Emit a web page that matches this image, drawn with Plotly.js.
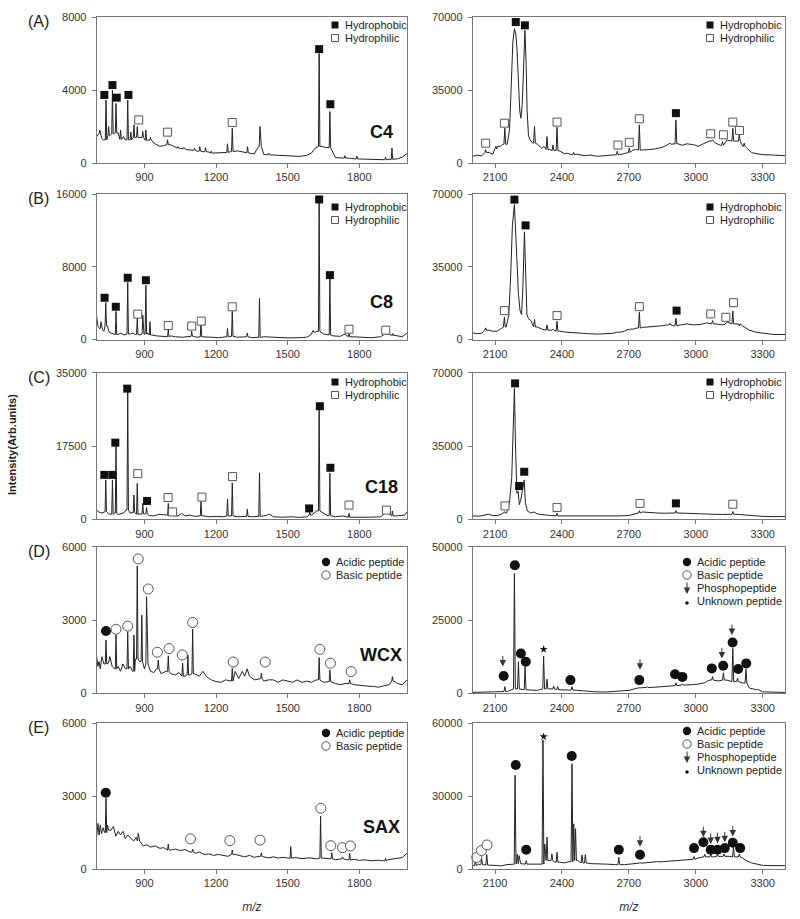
<!DOCTYPE html>
<html>
<head>
<meta charset="utf-8">
<script src="https://cdn.plot.ly/plotly-3.0.1.min.js"></script>
<style>
    body { margin: 0; background: #fff; }
    #chart { width: 800px; height: 919px; }
</style>
</head>
<body>
<div id="chart"></div>
<script>
// Spectra are read off the figure as baseline readings [m/z, intensity]
// plus peak apexes [m/z, intensity]; labelled peaks are separate lists.

// (A) C4
const c4LeftBase = [[700,1450],[707,1600],[714,1640],[721,1350],[728,1270],[749,1730],[756,1500],[770,1600],[790,1650],[798,1500],[805,1300],[812,1450],[819,1270],[840,1450],[846,1350],[881,1400],[915,1250],[923,1180],[945,1050],[965,910],[980,950],[1010,1000],[1035,820],[1060,780],[1077,730],[1100,700],[1120,650],[1145,620],[1170,600],[1188,545],[1215,560],[1235,580],[1300,640],[1320,560],[1345,520],[1360,500],[1378,900],[1390,900],[1400,470],[1411,450],[1450,430],[1481,400],[1520,380],[1551,360],[1580,420],[1600,545],[1614,800],[1645,900],[1660,850],[1700,300],[1730,270],[1760,260],[1800,220],[1830,210],[1870,190],[1900,180],[1920,200],[1960,230],[1980,320],[2000,520]];
const c4LeftPeaks = [[713,1800],[739,3450],[750,2000],[766,4000],[781,3270],[800,1800],[830,3450],[843,1700],[856,2090],[870,2000],[893,1730],[906,1800],[925,1400],[997,1270],[1040,900],[1065,850],[1110,800],[1132,900],[1156,850],[1180,650],[1248,1050],[1268,1900],[1290,700],[1332,900],[1384,2000],[1420,550],[1632,6000],[1677,2820],[1740,400],[1790,380],[1910,320],[1937,820]];
const c4LeftPhobic = [[732,3730],[766,4270],[784,3580],[833,3730],[1632,6240],[1679,3220]];
const c4LeftPhilic = [[876,2360],[997,1690],[1268,2220]];

const c4RightBase = [[2000,3200],[2020,3800],[2040,3400],[2075,5000],[2090,4200],[2125,8000],[2135,9000],[2155,9000],[2165,16000],[2172,35000],[2180,58000],[2187,64400],[2193,62000],[2198,55700],[2205,40000],[2211,25000],[2216,21500],[2222,28000],[2228,45000],[2234,63600],[2239,50000],[2244,25000],[2250,13000],[2258,11000],[2270,9500],[2290,9000],[2310,7000],[2320,8000],[2345,6500],[2370,6000],[2395,5500],[2410,4500],[2440,4000],[2470,4200],[2500,3500],[2530,3800],[2560,3200],[2590,3500],[2620,3800],[2660,4000],[2690,5000],[2715,6000],[2730,6500],[2760,6200],[2790,6400],[2820,6800],[2850,7500],[2870,8500],[2895,9000],[2920,9200],[2940,8500],[2960,9200],[2990,8800],[3010,8000],[3040,9500],[3060,10500],[3090,9500],[3110,8500],[3140,11000],[3180,10500],[3210,8000],[3230,7000],[3250,5000],[3270,4500],[3300,4000],[3350,3800],[3400,3500]];
const c4RightPeaks = [[2058,6400],[2108,6700],[2144,16700],[2277,17500],[2333,12700],[2360,8700],[2378,17200],[2423,4800],[2453,5100],[2648,5600],[2702,7200],[2747,18300],[2884,9500],[2911,20700],[3075,11100],[3120,10300],[3166,16700],[3195,13500],[3217,9500]];
const c4RightPhobic = [[2193,67600],[2234,66000],[2911,23900]];
const c4RightPhilic = [[2058,9500],[2142,19100],[2378,19600],[2651,8600],[2702,9900],[2747,21200],[3067,14000],[3124,13500],[3166,19600],[3196,15600]];

// (B) C8
const c8LeftBase = [[700,2500],[705,1500],[712,1200],[724,1100],[730,900],[745,1500],[752,800],[760,700],[770,600],[790,550],[800,700],[815,500],[840,600],[850,700],[862,550],[880,500],[898,600],[915,700],[930,500],[950,400],[970,350],[990,300],[1010,400],[1030,300],[1060,250],[1080,300],[1105,350],[1120,250],[1150,300],[1180,250],[1210,200],[1240,300],[1258,350],[1290,250],[1320,300],[1350,200],[1370,250],[1400,300],[1430,250],[1460,200],[1500,180],[1550,200],[1580,250],[1597,500],[1615,800],[1622,900],[1650,600],[1665,500],[1690,400],[1720,350],[1740,600],[1770,300],[1800,250],[1850,200],[1890,300],[1920,600],[1950,450],[1980,300],[2000,700]];
const c8LeftPeaks = [[718,1950],[738,4070],[781,3100],[830,6280],[870,2320],[893,2680],[906,5980],[923,1950],[1000,1100],[1098,900],[1137,1950],[1248,1210],[1268,3100],[1331,700],[1382,4510],[1607,1000],[1632,15230],[1677,6800],[1757,660],[1911,700],[1941,650]];
const c8LeftPhobic = [[733,4590],[780,3600],[830,6790],[906,6520],[1632,15400],[1677,7080]];
const c8LeftPhilic = [[872,2790],[1000,1540],[1098,1470],[1138,2020],[1268,3600],[1757,1130],[1911,1020]];

const c8RightBase = [[2000,3200],[2020,2800],[2040,3000],[2070,4500],[2090,4000],[2110,4000],[2127,5000],[2150,6000],[2162,12000],[2170,30000],[2178,55000],[2187,64900],[2193,50000],[2198,32800],[2205,22000],[2212,14000],[2219,12000],[2225,25000],[2232,51800],[2238,30000],[2243,12000],[2250,10000],[2262,9000],[2290,6000],[2310,5000],[2345,4500],[2390,4000],[2420,3500],[2450,3200],[2480,3000],[2520,2800],[2560,2600],[2600,2800],[2630,3000],[2660,3500],[2680,4000],[2720,5000],[2735,5500],[2760,5800],[2790,6000],[2820,6200],[2850,6600],[2870,7000],[2900,6600],[2930,7000],[2960,7500],[2990,7000],[3020,7200],[3050,8000],[3090,7500],[3110,7000],[3140,8500],[3180,7500],[3210,6500],[3225,5500],[3240,4500],[3270,3500],[3300,3000],[3350,2400],[3400,2400]];
const c8RightPeaks = [[2058,5600],[2142,10700],[2277,9600],[2333,7000],[2360,5000],[2378,8800],[2648,3600],[2702,4500],[2747,13100],[2884,7800],[2911,10200],[3075,9100],[3124,7500],[3166,13700],[3195,6500]];
const c8RightPhobic = [[2187,67300],[2237,54900],[2914,13900]];
const c8RightPhilic = [[2142,13900],[2378,11500],[2747,15800],[3067,12300],[3135,10700],[3169,17700]];

// (C) C18
const c18LeftBase = [[700,2230],[710,1700],[720,1500],[730,1800],[750,1300],[758,1200],[775,1500],[790,1100],[800,1300],[815,1600],[822,2200],[840,1500],[850,1600],[880,1200],[900,1300],[920,900],[940,800],[960,1200],[980,1000],[1020,900],[1040,800],[1056,1400],[1070,800],[1090,1000],[1110,700],[1150,800],[1170,600],[1200,700],[1230,600],[1258,800],[1290,600],[1320,700],[1350,600],[1370,700],[1400,800],[1425,1200],[1440,600],[1480,500],[1520,600],[1550,450],[1580,600],[1600,1000],[1615,1800],[1622,2000],[1650,1500],[1665,900],[1700,600],[1730,800],[1770,500],[1800,450],[1850,500],[1890,600],[1920,1500],[1950,800],[1990,1000],[2000,1800]];
const c18LeftPeaks = [[738,9390],[766,9390],[781,17740],[830,30870],[856,5800],[870,8600],[893,3800],[909,2800],[1000,3800],[1137,4200],[1248,4800],[1268,8700],[1331,2400],[1382,11100],[1593,1700],[1632,27690],[1677,11000],[1757,1400],[1911,1300],[1939,2000]];
const c18LeftPhobic = [[732,10600],[766,10600],[778,18300],[828,31200],[911,4380],[1590,2600],[1635,27000],[1679,12300]];
const c18LeftPhilic = [[872,10900],[999,5200],[1018,1750],[1141,5300],[1269,10200],[1757,3400],[1914,2200]];

const c18RightBase = [[2000,1600],[2030,1500],[2060,2200],[2070,2400],[2090,1800],[2110,1800],[2130,2500],[2152,3000],[2165,8000],[2175,20000],[2182,45000],[2187,62500],[2192,35000],[2198,12400],[2204,13300],[2209,7000],[2215,9000],[2220,12000],[2226,15000],[2231,18800],[2236,8000],[2245,4000],[2260,3000],[2275,3500],[2290,2500],[2320,2000],[2350,1800],[2400,1600],[2450,1500],[2500,1700],[2550,1400],[2600,1500],[2650,1600],[2700,1800],[2720,2500],[2740,3000],[2760,3500],[2790,3200],[2830,3000],[2860,2900],[2890,3100],[2925,3000],[2960,2800],[3000,2600],[3040,2700],[3080,2400],[3120,2300],[3150,2500],[3180,2400],[3220,2000],[3250,1600],[3300,1400],[3350,1300],[3400,1300]];
const c18RightPeaks = [[2142,3700],[2378,2860],[2747,4100],[2911,4100],[3166,3700]];
const c18RightPhobic = [[2190,64900],[2208,15900],[2231,22700],[2911,7600]];
const c18RightPhilic = [[2145,6400],[2378,5600],[2750,7600],[3166,7200]];

// (D) WCX
const wcxLeftBase = [[700,1500],[705,1100],[710,1300],[715,1000],[722,1500],[730,1200],[749,1230],[755,1500],[765,1100],[775,1000],[790,1100],[800,900],[810,1200],[820,1000],[840,1100],[850,900],[862,1400],[880,1300],[900,1000],[915,1200],[925,900],[940,850],[950,1000],[970,800],[990,900],[1010,800],[1030,750],[1045,850],[1070,700],[1090,750],[1110,800],[1130,700],[1145,900],[1160,680],[1180,550],[1200,480],[1220,450],[1240,550],[1260,500],[1280,900],[1295,600],[1310,900],[1320,700],[1330,1000],[1340,700],[1360,550],[1380,600],[1400,500],[1420,550],[1440,550],[1460,450],[1480,550],[1500,500],[1520,450],[1540,550],[1560,450],[1580,500],[1600,450],[1620,550],[1650,450],[1665,480],[1700,400],[1720,350],[1740,400],[1780,350],[1800,320],[1830,300],[1860,280],[1880,250],[1900,300],[1925,350],[1945,500],[1960,400],[1980,350],[2000,550]];
const wcxLeftPeaks = [[739,2180],[781,2390],[830,2520],[856,2390],[870,5210],[889,3200],[909,3950],[958,1360],[1000,1530],[1060,1230],[1082,1570],[1102,2620],[1268,1020],[1390,830],[1632,1460],[1677,955],[1760,550],[1939,680]];
const wcxLeftAcidic = [[739,2550]];
const wcxLeftBasic = [[781,2620],[830,2750],[874,5500],[916,4270],[954,1680],[1003,1830],[1059,1570],[1102,2900],[1272,1280],[1406,1280],[1635,1800],[1679,1230],[1766,890]];

const wcxRightBase = [[2000,300],[2050,400],[2100,500],[2130,600],[2160,700],[2200,1500],[2250,1200],[2290,1000],[2345,1500],[2400,1200],[2455,1100],[2500,700],[2550,500],[2600,450],[2650,600],[2700,1000],[2740,1800],[2800,2000],[2850,2200],[2900,2600],[2950,2800],[3000,3000],[3040,3600],[3060,4500],[3100,4200],[3140,4500],[3180,4000],[3210,3500],[3240,1800],[3270,1200],[3300,500],[3350,400],[3400,300]];
const wcxRightPeaks = [[2144,2270],[2187,40900],[2205,10800],[2235,9100],[2318,12700],[2333,4800],[2363,2500],[2381,2300],[2445,2270],[2747,2050],[2782,2270],[2911,3600],[2940,3200],[3075,5700],[3124,7000],[3166,15300],[3187,5100],[3225,8200],[3277,1360]];
const wcxRightAcidic = [[2139,5900],[2189,43700],[2216,13600],[2238,10800],[2438,4500],[2747,4500],[2907,6500],[2940,5600],[3072,8500],[3123,9400],[3165,17300],[3190,8300],[3226,10200]];
const wcxRightPhospho = [[2135,9100],[2750,8000],[3117,11900],[3162,19900]];
const wcxRightUnknown = [[2318,15000]];

// (E) SAX
const saxLeftBase = [[700,1330],[705,1880],[710,1400],[715,1820],[720,1450],[727,1700],[733,1500],[745,1810],[750,1600],[760,1600],[770,1750],[780,1350],[790,1550],[800,1400],[810,1550],[820,1250],[830,1400],[845,1250],[855,1150],[865,1300],[880,1150],[895,950],[910,1000],[925,900],[945,950],[965,850],[980,880],[1010,780],[1030,820],[1050,760],[1070,800],[1090,700],[1115,650],[1130,700],[1150,600],[1170,620],[1190,560],[1210,600],[1230,550],[1250,520],[1280,600],[1300,550],[1320,500],[1340,560],[1360,480],[1380,520],[1400,500],[1420,460],[1440,500],[1460,450],[1480,480],[1500,440],[1530,470],[1560,430],[1590,460],[1620,420],[1650,450],[1670,420],[1700,380],[1720,420],[1745,380],[1780,400],[1800,350],[1820,380],[1850,340],[1880,360],[1900,330],[1920,380],[1940,400],[1960,430],[1980,470],[2000,650]];
const saxLeftPeaks = [[739,2910],[874,1470],[1000,1030],[1102,810],[1268,780],[1390,670],[1513,920],[1638,2180],[1685,670],[1730,500],[1760,645],[1910,450]];
const saxLeftAcidic = [[738,3140]];
const saxLeftBasic = [[1093,1240],[1258,1170],[1384,1190],[1639,2500],[1681,960],[1730,880],[1763,950]];

const saxRightBase = [[2000,1400],[2025,2000],[2050,1800],[2075,1600],[2100,1400],[2130,1300],[2153,1800],[2175,2000],[2215,2200],[2250,2000],[2280,1800],[2300,2000],[2345,3500],[2365,3000],[2390,2800],[2410,2500],[2430,3000],[2470,3500],[2500,2500],[2530,2200],[2560,2000],[2600,2000],[2640,1800],[2680,1800],[2720,2000],[2760,2400],[2800,2600],[2850,3000],[2900,3400],[2950,3600],[2980,4000],[3010,4500],[3050,5000],[3080,5000],[3110,5200],[3150,5200],[3180,5000],[3210,4500],[3225,3500],[3250,2500],[3270,2000],[3300,1500],[3350,1400],[3400,1400]];
const saxRightPeaks = [[2012,3700],[2040,4300],[2063,5900],[2190,38600],[2200,6200],[2208,5500],[2240,3450],[2270,2000],[2315,53100],[2323,10300],[2333,13100],[2355,6200],[2378,6900],[2445,43400],[2453,18600],[2461,16600],[2490,5800],[2505,5900],[2655,4800],[2750,2760],[2827,3200],[2992,5100],[3040,6000],[3067,6200],[3097,6000],[3127,6200],[3169,9000],[3195,6200]];
const saxRightAcidic = [[2193,42800],[2240,7900],[2444,46500],[2655,7900],[2750,5900],[2992,8600],[3034,11000],[3067,7900],[3097,7900],[3130,8600],[3166,10800],[3199,8600]];
const saxRightBasic = [[2018,4800],[2039,7600],[2064,9900]];
const saxRightPhospho = [[2750,9200],[3034,13100],[3067,10300],[3097,10600],[3130,11000],[3166,13400]];
const saxRightUnknown = [[2318,54500]];

const yMaxes = [8000, 70000, 16000, 70000, 35000, 70000, 6000, 50000, 6000, 60000];
const panelLabels = ['(A)', '(B)', '(C)', '(D)', '(E)'];
const columnTags = ['C4', 'C8', 'C18', 'WCX', 'SAX'];
const xTicks = [[900, 1200, 1500, 1800], [2100, 2400, 2700, 3000, 3300]];
const keyLabels = {
    phobic: 'Hydrophobic', philic: 'Hydrophilic',
    acidic: 'Acidic peptide', basic: 'Basic peptide',
    phospho: 'Phosphopeptide', unknown: 'Unknown peptide'
};

// geometry (px in an 800x919 page)
const W = 800, H = 919;
const FONT = 'Liberation Sans, Arial, sans-serif';
const colPx = [[96.7, 407], [472.7, 785]];
const rowPx = [[17, 163], [194, 339.5], [372.7, 519.3], [546.7, 693.3], [723.3, 869]];
const xRanges = [[700, 2000], [2000, 3400]];
const tagY = [132, 301.7, 486.7, 655, 827.3];

const markStyles = {
    phobic: { symbol: 'square', size: 8, color: '#111', line: { width: 0 } },
    philic: { symbol: 'square', size: 8, color: '#fff', line: { color: '#555', width: 1 } },
    acidic: { symbol: 'circle', size: 10, color: '#111', line: { width: 0 } },
    basic: { symbol: 'circle', size: 10, color: '#fff', line: { color: '#555', width: 1 } },
    unknown: { symbol: 'star', size: 6, color: '#111', line: { width: 0 } }
};

const panels = [
    { base: c4LeftBase, peaks: c4LeftPeaks, marks: { phobic: c4LeftPhobic, philic: c4LeftPhilic } },
    { base: c4RightBase, peaks: c4RightPeaks, marks: { phobic: c4RightPhobic, philic: c4RightPhilic } },
    { base: c8LeftBase, peaks: c8LeftPeaks, marks: { phobic: c8LeftPhobic, philic: c8LeftPhilic } },
    { base: c8RightBase, peaks: c8RightPeaks, marks: { phobic: c8RightPhobic, philic: c8RightPhilic } },
    { base: c18LeftBase, peaks: c18LeftPeaks, marks: { phobic: c18LeftPhobic, philic: c18LeftPhilic } },
    { base: c18RightBase, peaks: c18RightPeaks, marks: { phobic: c18RightPhobic, philic: c18RightPhilic } },
    { base: wcxLeftBase, peaks: wcxLeftPeaks, marks: { acidic: wcxLeftAcidic, basic: wcxLeftBasic } },
    { base: wcxRightBase, peaks: wcxRightPeaks, marks: { acidic: wcxRightAcidic, unknown: wcxRightUnknown }, phospho: wcxRightPhospho },
    { base: saxLeftBase, peaks: saxLeftPeaks, marks: { acidic: saxLeftAcidic, basic: saxLeftBasic } },
    { base: saxRightBase, peaks: saxRightPeaks, marks: { acidic: saxRightAcidic, basic: saxRightBasic, unknown: saxRightUnknown }, phospho: saxRightPhospho }
];

function px2x(x) { return x / W; }
function px2y(y) { return 1 - y / H; }

// baseline readings + narrow spikes for the peaks
function buildSpectrum(base, peaks, hw) {
    const kept = base.filter(b => !peaks.some(p => Math.abs(p[0] - b[0]) <= hw));
    const pts = kept.slice();
    peaks.forEach(p => {
        let foot = kept[0];
        kept.forEach(b => {
            if (Math.abs(b[0] - p[0]) < Math.abs(foot[0] - p[0])) foot = b;
        });
        pts.push([p[0] - hw, foot[1]], [p[0], p[1]], [p[0] + hw, foot[1]]);
    });
    pts.sort((a, b) => a[0] - b[0]);
    return { x: pts.map(p => p[0]), y: pts.map(p => p[1]) };
}

const traces = [];
const annotations = [];
const shapes = [];
const layout = {
    width: W,
    height: H,
    margin: { l: 0, r: 0, t: 0, b: 0 },
    paper_bgcolor: '#fff',
    plot_bgcolor: '#fff',
    showlegend: false,
    font: { family: FONT, size: 11, color: '#333' }
};

function phosphoArrow(xref, yref, x, y, len) {
    return {
        xref: xref, yref: yref, x: x, y: y, text: '',
        showarrow: true, ax: 0, ay: -len, arrowhead: 2,
        arrowsize: 1.3, arrowwidth: 1, arrowcolor: '#333'
    };
}

panels.forEach((p, k) => {
    const row = Math.floor(k / 2);
    const col = k % 2;
    const sfx = k === 0 ? '' : String(k + 1);
    const xa = 'x' + sfx, ya = 'y' + sfx;
    const yMax = yMaxes[k];

    const spec = buildSpectrum(p.base, p.peaks, col === 0 ? 3 : 4);
    traces.push({
        x: spec.x, y: spec.y, xaxis: xa, yaxis: ya,
        type: 'scatter', mode: 'lines',
        line: { color: '#222', width: 1 },
        hoverinfo: 'skip'
    });

    Object.keys(p.marks).forEach(kind => {
        const pts = p.marks[kind];
        traces.push({
            x: pts.map(q => q[0]), y: pts.map(q => q[1]),
            xaxis: xa, yaxis: ya,
            type: 'scatter', mode: 'markers',
            marker: markStyles[kind],
            cliponaxis: false
        });
    });

    (p.phospho || []).forEach(q => {
        annotations.push(phosphoArrow(xa, ya, q[0], q[1], 12));
    });

    const axisCommon = {
        showline: true, mirror: true, linecolor: '#777', linewidth: 1,
        ticks: 'outside', ticklen: 4, tickcolor: '#777', tickwidth: 1,
        showgrid: false, zeroline: false, fixedrange: true,
        tickfont: { family: FONT, size: 11, color: '#333' }
    };
    layout['xaxis' + sfx] = Object.assign({}, axisCommon, {
        domain: [px2x(colPx[col][0]), px2x(colPx[col][1])],
        range: xRanges[col], anchor: ya,
        tickmode: 'array', tickvals: xTicks[col]
    });
    if (row === 4) {
        layout['xaxis' + sfx].title = {
            text: '<i>m/z</i>', standoff: 14,
            font: { family: FONT, size: 12, color: '#333' }
        };
    }
    layout['yaxis' + sfx] = Object.assign({}, axisCommon, {
        domain: [px2y(rowPx[row][1]), px2y(rowPx[row][0])],
        range: [0, yMax], anchor: xa,
        tickmode: 'array', tickvals: [0, yMax / 2, yMax], tickformat: 'd',
        ticklabelstandoff: 3
    });

    if (col === 0) {
        annotations.push({
            xref: 'paper', yref: 'paper', x: px2x(26), y: px2y(rowPx[row][0] + 4.5),
            xanchor: 'left', yanchor: 'middle', showarrow: false, text: panelLabels[row],
            font: { family: FONT, size: 16, color: '#222' }
        });
        annotations.push({
            xref: 'paper', yref: 'paper', x: px2x(381), y: px2y(tagY[row]),
            xanchor: 'center', yanchor: 'middle', showarrow: false, text: columnTags[row],
            font: { family: FONT, size: 18, color: '#111', weight: 'bold' }
        });
    }
});

// per-panel keys: symbol drawn as a small shape, label as text
const keyBoxes = [
    { kinds: ['phobic', 'philic'], symX: 335, top: 25 },
    { kinds: ['phobic', 'philic'], symX: 710, top: 25 },
    { kinds: ['phobic', 'philic'], symX: 335, top: 207 },
    { kinds: ['phobic', 'philic'], symX: 710, top: 207 },
    { kinds: ['phobic', 'philic'], symX: 335, top: 382 },
    { kinds: ['phobic', 'philic'], symX: 710, top: 382 },
    { kinds: ['acidic', 'basic'], symX: 326, top: 562 },
    { kinds: ['acidic', 'basic', 'phospho', 'unknown'], symX: 687, top: 562 },
    { kinds: ['acidic', 'basic'], symX: 326, top: 733 },
    { kinds: ['acidic', 'basic', 'phospho', 'unknown'], symX: 687, top: 731 }
];
const KEY_STEP = 13;

function keyShape(type, cx, cy, r, fill, edge) {
    return {
        type: type, xref: 'paper', yref: 'paper', layer: 'above',
        x0: px2x(cx - r), x1: px2x(cx + r), y0: px2y(cy + r), y1: px2y(cy - r),
        fillcolor: fill, line: { color: edge || fill, width: edge ? 1 : 0 }
    };
}

keyBoxes.forEach(box => {
    box.kinds.forEach((kind, i) => {
        const y = box.top + i * KEY_STEP;
        const cx = box.symX;
        if (kind === 'phobic') shapes.push(keyShape('rect', cx, y, 3.5, '#111'));
        if (kind === 'philic') shapes.push(keyShape('rect', cx, y, 3.5, '#fff', '#555'));
        if (kind === 'acidic') shapes.push(keyShape('circle', cx, y, 4.2, '#111'));
        if (kind === 'basic') shapes.push(keyShape('circle', cx, y, 4.2, '#fff', '#555'));
        if (kind === 'unknown') shapes.push(keyShape('circle', cx, y + 2, 1.8, '#111'));
        if (kind === 'phospho') annotations.push(phosphoArrow('paper', 'paper', px2x(cx), px2y(y + 6), 13));
        annotations.push({
            xref: 'paper', yref: 'paper', x: px2x(cx + 8.5), y: px2y(y),
            xanchor: 'left', yanchor: 'middle', showarrow: false, borderpad: 0,
            text: keyLabels[kind],
            font: { family: FONT, size: 11, color: '#222' }
        });
    });
});

annotations.push({
    xref: 'paper', yref: 'paper', x: px2x(12), y: px2y(445),
    xanchor: 'center', yanchor: 'middle', showarrow: false, textangle: -90,
    text: 'Intensity(Arb.units)',
    font: { family: FONT, size: 11, color: '#222', weight: 'bold' }
});

layout.annotations = annotations;
layout.shapes = shapes;

Plotly.newPlot('chart', traces, layout, { staticPlot: true, displayModeBar: false });
</script>
</body>
</html>
